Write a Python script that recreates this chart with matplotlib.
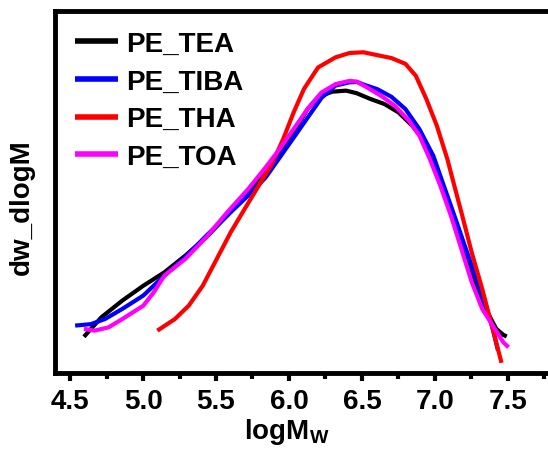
import numpy as np
import matplotlib
matplotlib.use('Agg')
import matplotlib.pyplot as plt
from matplotlib.ticker import MultipleLocator, NullLocator

plt.rcParams['font.family'] = ['Liberation Sans', 'DejaVu Sans']
plt.rcParams['font.weight'] = 'bold'
plt.rcParams['mathtext.fontset'] = 'custom'
plt.rcParams['mathtext.bf'] = 'Liberation Sans:bold'
plt.rcParams['mathtext.rm'] = 'Liberation Sans:bold'

# molecular weight distributions
x_tea = [4.595, 4.715, 4.858, 5.002, 5.146, 5.289, 5.433, 5.577, 5.696, 5.840, 5.936,
         6.032, 6.127, 6.199, 6.295, 6.391, 6.463, 6.558, 6.654, 6.750, 6.845, 6.917,
         6.989, 7.061, 7.133, 7.204, 7.276, 7.348, 7.420, 7.470, 7.492]
y_tea = [0.100, 0.154, 0.200, 0.241, 0.278, 0.324, 0.375, 0.435, 0.490, 0.554, 0.610,
         0.665, 0.729, 0.762, 0.777, 0.780, 0.773, 0.757, 0.743, 0.720, 0.683, 0.646,
         0.582, 0.508, 0.425, 0.333, 0.241, 0.177, 0.122, 0.105, 0.101]

x_tiba = [4.535, 4.643, 4.739, 4.858, 5.002, 5.146, 5.289, 5.433, 5.577, 5.720, 5.840,
          5.936, 6.032, 6.127, 6.223, 6.319, 6.415, 6.466, 6.510, 6.606, 6.702, 6.798,
          6.893, 6.989, 7.061, 7.133, 7.204, 7.276, 7.348, 7.396, 7.432]
y_tiba = [0.131, 0.135, 0.149, 0.177, 0.214, 0.269, 0.320, 0.379, 0.435, 0.490, 0.540,
          0.595, 0.650, 0.705, 0.760, 0.794, 0.803, 0.804, 0.797, 0.784, 0.763, 0.729,
          0.674, 0.600, 0.517, 0.435, 0.352, 0.269, 0.186, 0.122, 0.062]

x_tha = [5.098, 5.218, 5.313, 5.409, 5.505, 5.601, 5.696, 5.792, 5.888, 5.960, 6.032,
         6.103, 6.199, 6.319, 6.415, 6.510, 6.606, 6.702, 6.798, 6.869, 6.941, 7.013,
         7.085, 7.133, 7.181, 7.252, 7.324, 7.396, 7.456]
y_tha = [0.117, 0.149, 0.186, 0.241, 0.315, 0.389, 0.453, 0.517, 0.582, 0.646, 0.720,
         0.785, 0.844, 0.872, 0.884, 0.886, 0.878, 0.870, 0.854, 0.821, 0.757, 0.683,
         0.591, 0.517, 0.444, 0.333, 0.232, 0.122, 0.028]

x_toa = [4.595, 4.667, 4.763, 4.858, 5.002, 5.074, 5.146, 5.289, 5.433, 5.577, 5.720,
         5.840, 5.936, 6.032, 6.127, 6.223, 6.319, 6.415, 6.463, 6.534, 6.630, 6.726,
         6.822, 6.893, 6.965, 7.037, 7.109, 7.181, 7.252, 7.324, 7.396, 7.468, 7.504]
y_toa = [0.122, 0.117, 0.126, 0.149, 0.186, 0.223, 0.269, 0.315, 0.375, 0.444, 0.508,
         0.568, 0.619, 0.674, 0.729, 0.775, 0.798, 0.807, 0.805, 0.789, 0.766, 0.738,
         0.697, 0.656, 0.591, 0.517, 0.435, 0.343, 0.251, 0.177, 0.131, 0.085, 0.071]

series = [
    ('PE_TEA', x_tea, y_tea, '#000000'),
    ('PE_TIBA', x_tiba, y_tiba, '#0000ff'),
    ('PE_THA', x_tha, y_tha, '#ff0000'),
    ('PE_TOA', x_toa, y_toa, '#ff00ff'),
]

fig = plt.figure(figsize=(5.48, 4.52), dpi=100)
# axes runs past the right edge, the original is cropped there
ax = fig.add_axes([55/548, 1 - 374/452, (559 - 55)/548, (374 - 12)/452])

for name, xs, ys, c in series:
    ax.plot(xs, ys, '-', lw=3, color=c, label=name,
            solid_joinstyle='round', solid_capstyle='butt')

ax.set_xlim(4.397, 7.85)
ax.set_ylim(0, 1)

for s in ax.spines.values():
    s.set_linewidth(3.5)

ax.xaxis.set_major_locator(MultipleLocator(0.5))
ax.xaxis.set_minor_locator(MultipleLocator(0.25))
ax.xaxis.set_major_formatter(matplotlib.ticker.FormatStrFormatter('%.1f'))
ax.yaxis.set_major_locator(NullLocator())
ax.tick_params(axis='x', which='major', direction='out', length=6, width=3,
               labelsize=20, pad=5)
ax.tick_params(axis='x', which='minor', direction='out', length=4, width=3)

ax.set_xlabel(r'logM$_\mathbf{W}$', fontsize=20, fontweight='bold')
ax.xaxis.set_label_coords((287 - 55)/(559 - 55), -0.12)
ax.set_ylabel('dw_dlogM', fontsize=20, fontweight='bold')
ax.yaxis.set_label_coords(-0.04, (374 - 207)/362)

leg = ax.legend(loc='upper left', bbox_to_anchor=(75/548, 1 - 32/452),
                bbox_transform=fig.transFigure, frameon=False,
                fontsize=20, handlelength=1.55, handletextpad=0.3,
                labelspacing=0.42, borderpad=0, borderaxespad=0)
for line in leg.get_lines():
    line.set_linewidth(4)

fig.savefig('out.png', dpi=100)
